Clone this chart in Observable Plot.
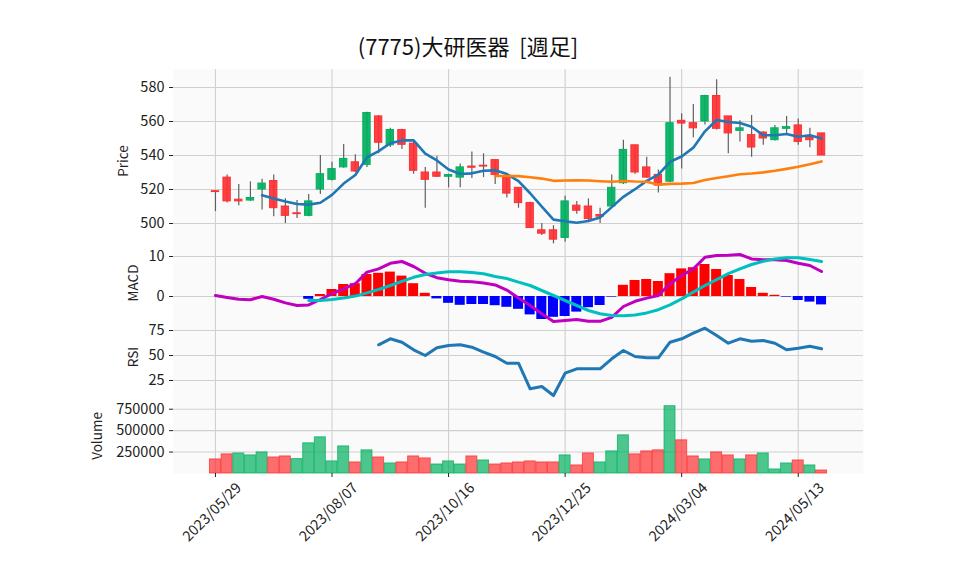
<!DOCTYPE html>
<html><head><meta charset="utf-8">
<script src="https://cdn.jsdelivr.net/npm/d3@7"></script>
<script src="https://cdn.jsdelivr.net/npm/@observablehq/plot@0.6"></script>
<style>
body{margin:0;background:#fff;}
#root{position:relative;width:958px;height:575px;font-family:"Noto Sans CJK JP","Noto Sans",sans-serif;color:#222;overflow:hidden;}
#title{position:absolute;left:0;width:936px;top:34px;text-align:center;font-size:22px;color:#111;white-space:pre;line-height:1;}
.panel{position:absolute;left:0;}
.ylab{position:absolute;font-size:13.5px;transform:translate(-50%,-50%) rotate(-90deg);white-space:nowrap;line-height:1;}
</style></head>
<body><div id="root"><div id="title">(7775)大研医器  [週足]</div></div>
<script>
// ---- data (weekly) ----
const tickIndex = [0, 10, 20, 30, 40, 50];
const tickLabels = ["2023/05/29","2023/08/07","2023/10/16","2023/12/25","2024/03/04","2024/05/13"];
const open  = [519,527,514,513.5,520,525,510,506,504.5,520,525.7,533,536,534.5,563,546,555,547,530,530,527.5,527,533.5,534,537.3,528,521,512,496,496,491.5,510.5,510,505,510,523.7,546,533,528.6,524.6,560.4,559,560,575,563,554.5,552,553.5,549,555.7,557.7,551,553];
const high  = [519.5,528.5,523,524.5,526,528.5,514.5,513.5,517,540,536,546.5,540.5,565.5,563.5,556,555.5,548,533,539.5,529,535,542,541,537.5,528.5,521,512.5,500,498.7,516,513,514.5,509,528.5,549,546,539,531.5,586,564.5,570,575.5,584.5,563,560.5,563.5,554,557.7,563,561.5,556,553];
const low   = [507,512,510.5,513,508,504,500,503,504,517,525,532.5,530,533,541,544.7,543.5,529,509,527,521,521,526.5,527,523,515,509,497,493,488,489,505.5,500.5,500,509.5,523,529,526.5,518,524,532,550.5,558,555,541,548,539,546,548.5,553,546,544.5,540];
const close = [518.5,513,513,515,523.5,509,504.5,505.5,513,529,532,538,530.6,565,547.5,555,546.3,531,525.7,527.5,528.5,533,532.8,533.5,528.6,517.6,512,497.3,494,490.5,513,507.5,502.6,504,521,543.3,530,527,522.3,559,558.8,556,575,555.7,553,556,544.7,550,556,556.7,548,549,540];
const volume = [164000,223000,234000,211000,246000,187000,199000,168000,352000,422000,141000,316000,129000,270000,187000,117000,129000,199000,176000,105000,141000,105000,199000,152000,105000,117000,129000,141000,129000,129000,211000,94000,234000,129000,258000,445000,223000,258000,270000,785000,387000,199000,164000,246000,211000,164000,211000,234000,47000,117000,152000,94000,35000];
const macd = [0.25,-0.25,-0.7,-0.8,0,-0.7,-1.6,-2.25,-2.1,-0.75,0.7,1.9,3.2,6.1,6.9,8.3,8.75,7.5,5.8,4.7,4.2,3.8,3.7,3.4,2.9,1.6,-0.4,-2.25,-4.3,-6.25,-6,-5.75,-6.2,-6.2,-5.2,-2.5,-1.2,-0.4,0.25,3.2,5.25,6.9,9.8,10.25,10.3,10.5,9.4,9.2,9.2,9,8.3,7.75,6.25];
const signalStart = 8;
const signal = [-1.0,-1.0,-0.75,-0.4,0.1,0.9,1.75,2.75,3.8,4.8,5.5,5.9,6.2,6.2,6.0,5.7,5.0,4.5,3.6,2.75,1.5,0.25,-1,-2.25,-3.5,-4.3,-4.75,-4.8,-4.6,-4.1,-3.3,-2.1,-0.6,1.1,2.75,4.2,5.7,6.9,8,8.8,9.4,9.7,9.7,9.25,8.75];
const hist = [-0.7,0.5,1.75,3,3.2,5.5,5.8,6.1,5.1,3.2,0.8,-0.6,-1.7,-2.2,-2,-2,-2.3,-2.7,-3.2,-4.6,-5.75,-5.2,-5,-3.9,-2.8,-2.25,-0.15,2.8,4,4.25,3.75,5.7,6.9,7.2,8,6.75,5.25,4.25,2.25,0.8,0.3,-0.15,-1,-1.4,-2.1];
const rsiStart = 14;
const rsi = [60.7,66.7,63.3,55.7,50,57.7,60,60.7,58.3,53.3,49,42.3,42.3,16.7,19,10,32.3,36.7,36.7,36.7,46.7,55,49,47.7,47.7,63.3,66.7,72.3,77.3,70,62.3,66.7,64.3,65,62.3,55.7,57.3,59.3,56.7];

// ---- derived tables ----
const UP = "#00b060", DOWN = "#fe3032";
const candles = open.map((o, i) => ({i, o, h: high[i], l: low[i], c: close[i], v: volume[i],
  up: close[i] >= o, vup: i === 0 ? close[i] >= o : close[i] >= close[i - 1]}));
function sma(arr, k) { return arr.map((_, i) => i < k - 1 ? null : d3.mean(arr.slice(i - k + 1, i + 1))); }
const ma5 = sma(close, 5).map((v, i) => ({i, v})).filter(d => d.v != null);
const ma25 = sma(close, 25).map((v, i) => ({i, v})).filter(d => d.v != null);
const macdRows = macd.map((v, i) => ({i, v}));
const sigRows = signal.map((v, k) => ({i: k + signalStart, v}));
const histRows = hist.map((v, k) => ({i: k + signalStart, v}));
const rsiRows = rsi.map((v, k) => ({i: k + rsiStart, v}));

const GRID = "#d0d0d0", BG = "#fafafa";
const FONT = '"Noto Sans CJK JP","Noto Sans",sans-serif';
const xScale = {type: "linear", domain: [-3.6, 55.6]};
function base(h, yopt, marks, mb = 0) {
  return Plot.plot({
    width: 958, height: h + mb, marginLeft: 173, marginRight: 95, marginTop: 0, marginBottom: mb,
    x: {...xScale, axis: null}, y: {...yopt, axis: null},
    style: {fontFamily: FONT, fontSize: "14.5px", color: "#222", background: "transparent", overflow: "visible"},
    marks: [
      Plot.frame({fill: BG, stroke: null}),
      Plot.gridX(tickIndex, {stroke: GRID, strokeOpacity: 1, strokeWidth: 1.1}),
      Plot.gridY(yopt.ticks, {stroke: GRID, strokeOpacity: 1, strokeWidth: 1.1}),
      Plot.axisY({ticks: yopt.ticks, tickSize: 4, tickPadding: 5, tickFormat: d3.format("d"), label: null, stroke: "#222"}),
      ...marks
    ]
  });
}
const root = document.getElementById("root");
function place(svg, top) { const d = document.createElement("div"); d.className = "panel"; d.style.top = top + "px"; d.appendChild(svg); root.appendChild(d); }
function ylab(t, x, y) { const d = document.createElement("div"); d.className = "ylab"; d.textContent = t; d.style.left = x + "px"; d.style.top = y + "px"; root.appendChild(d); }

// Price panel
place(base(184, {domain: [482.35, 590.6], ticks: [500, 520, 540, 560, 580]}, [
  Plot.ruleX(candles, {x: "i", y1: "l", y2: "h", stroke: "#606060", strokeWidth: 1.2}),
  Plot.rect(candles, {x1: d => d.i - 0.315, x2: d => d.i + 0.315, y1: "o", y2: "c",
    fill: d => d.up ? UP : DOWN, stroke: d => d.up ? UP : DOWN, strokeWidth: 1, fillOpacity: 0.92}),
  Plot.line(ma5, {x: "i", y: "v", stroke: "#1f77b4", strokeWidth: 2.6}),
  Plot.line(ma25, {x: "i", y: "v", stroke: "#ff7f0e", strokeWidth: 2.6})
]), 69);

// MACD panel
place(base(73, {domain: [-7.5, 10.75], ticks: [0, 10]}, [
  Plot.rect(histRows, {x1: d => d.i - 0.43, x2: d => d.i + 0.43, y1: 0, y2: "v", fill: d => d.v >= 0 ? "#ff0000" : "#0000ff"}),
  Plot.line(macdRows, {x: "i", y: "v", stroke: "#bf00bf", strokeWidth: 3}),
  Plot.line(sigRows, {x: "i", y: "v", stroke: "#00bfbf", strokeWidth: 3})
]), 253);

// RSI panel
place(base(72, {domain: [7, 79], ticks: [25, 50, 75]}, [
  Plot.line(rsiRows, {x: "i", y: "v", stroke: "#1f77b4", strokeWidth: 3})
]), 326);

// Volume panel with date axis
place(base(75, {domain: [0, 875000], ticks: [250000, 500000, 750000]}, [
  Plot.rectY(candles, {x1: d => d.i - 0.47, x2: d => d.i + 0.47, y1: 0, y2: "v",
    fill: d => d.vup ? UP : DOWN, fillOpacity: 0.7, stroke: d => d.vup ? UP : DOWN, strokeOpacity: 0.75, strokeWidth: 1}),
  Plot.axisX({ticks: tickIndex, tickSize: 4, tickFormat: () => "", stroke: "#222"}),
  Plot.text(tickIndex, {x: d => d, text: (d, k) => tickLabels[k], frameAnchor: "bottom", dy: 42, rotate: -45, textAnchor: "middle", fill: "#222", fontSize: 14.5})
], 100), 398);

ylab("Price", 123, 161);
ylab("MACD", 133, 283);
ylab("RSI", 133, 357);
ylab("Volume", 97, 436);
</script></body></html>
